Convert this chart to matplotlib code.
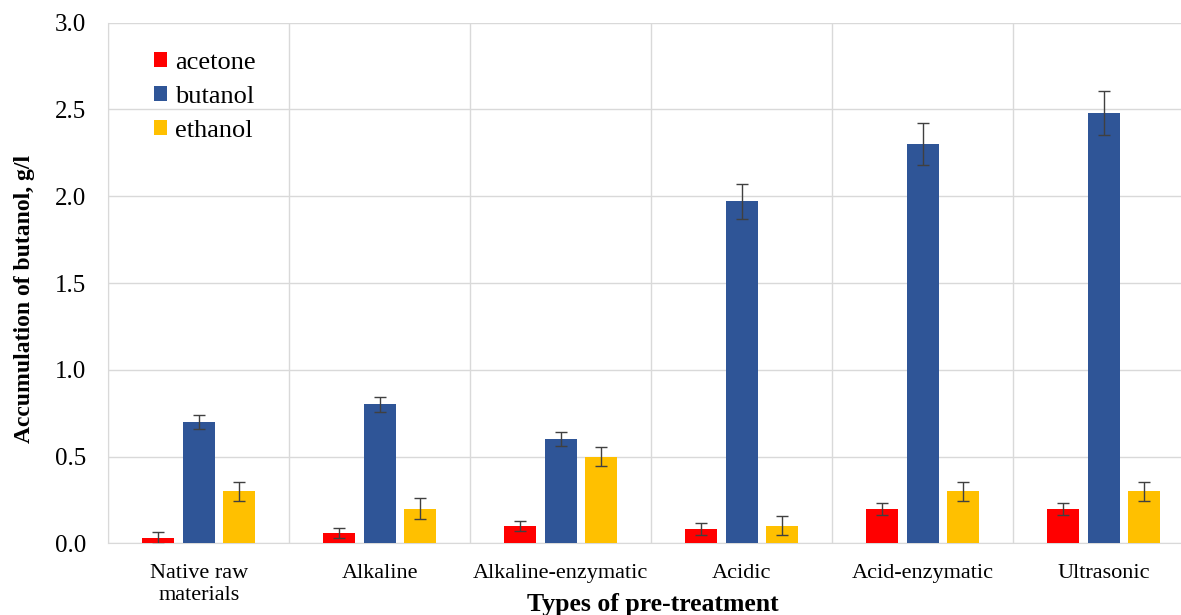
import matplotlib
matplotlib.use("Agg")
import matplotlib.pyplot as plt
import numpy as np

categories = ["Native raw\nmaterials", "Alkaline", "Alkaline-enzymatic", "Acidic", "Acid-enzymatic", "Ultrasonic"]
series_names = ["acetone", "butanol", "ethanol"]
acetone = [0.03, 0.06, 0.10, 0.08, 0.20, 0.20]
butanol = [0.70, 0.80, 0.60, 1.97, 2.30, 2.48]
ethanol = [0.30, 0.20, 0.50, 0.10, 0.30, 0.30]
acetone_err = [0.035, 0.03, 0.03, 0.035, 0.035, 0.035]
butanol_err = [0.04, 0.045, 0.04, 0.10, 0.12, 0.125]
ethanol_err = [0.055, 0.06, 0.055, 0.055, 0.055, 0.055]
colors = ["#FF0000", "#2F5597", "#FFC000"]
yticks = [0.0, 0.5, 1.0, 1.5, 2.0, 2.5, 3.0]

plt.rcParams['font.family'] = ['Liberation Serif', 'DejaVu Serif']

fig = plt.figure(figsize=(11.81, 6.15), dpi=100)
ax = fig.add_axes([108.3/1181, (615-543.3)/615, 6*181/1181, (543.3-22.7)/615])

x = np.arange(len(categories))
width = 0.177
step = 0.223
data = [acetone, butanol, ethanol]
errs = [acetone_err, butanol_err, ethanol_err]
for i, (vals, err, c, name) in enumerate(zip(data, errs, colors, series_names)):
    ax.bar(x + (i - 1) * step, vals, width, color=c, label=name, zorder=3,
           yerr=err, error_kw=dict(ecolor="#404040", elinewidth=1.0, capsize=4, capthick=1.0, zorder=4))

ax.set_xlim(-0.5, len(categories) - 0.5)
ax.set_ylim(0, 3.0)
ax.set_yticks(yticks)
ax.set_yticklabels([f"{v:.1f}" for v in yticks], fontsize=18)
ax.set_xticks(x)
ax.set_xticklabels(categories, fontsize=16, linespacing=1.2)
ax.tick_params(axis='both', length=0)
ax.tick_params(axis='y', pad=16)
ax.tick_params(axis='x', pad=15)

ax.set_xticks(np.arange(-0.5, len(categories), 1.0), minor=True)
ax.grid(True, axis='y', which='major', color='#D9D9D9', linewidth=1.0, zorder=0)
ax.grid(True, axis='x', which='minor', color='#D9D9D9', linewidth=1.0, zorder=0)
ax.tick_params(axis='x', which='minor', length=0)

for s in ['top', 'right']:
    ax.spines[s].set_visible(False)
ax.spines['left'].set_color('#D9D9D9')
ax.spines['bottom'].set_color('#D9D9D9')

ax.set_ylabel("Accumulation of butanol, g/l", fontsize=17, fontweight='bold')
ax.yaxis.set_label_coords(-73/1086, 0.469)
fig.text(653/1181, 1 - 604/615, "Types of pre-treatment", fontsize=18.5, fontweight='bold',
         ha='center', va='center')

leg = ax.legend(loc='upper left', bbox_to_anchor=(35/1086, 1 - 19/520.6), frameon=False,
                fontsize=19, handlelength=0.5, handleheight=0.5, handletextpad=0.3,
                labelspacing=0.45, borderaxespad=0)

fig.savefig("out.png", dpi=100)
